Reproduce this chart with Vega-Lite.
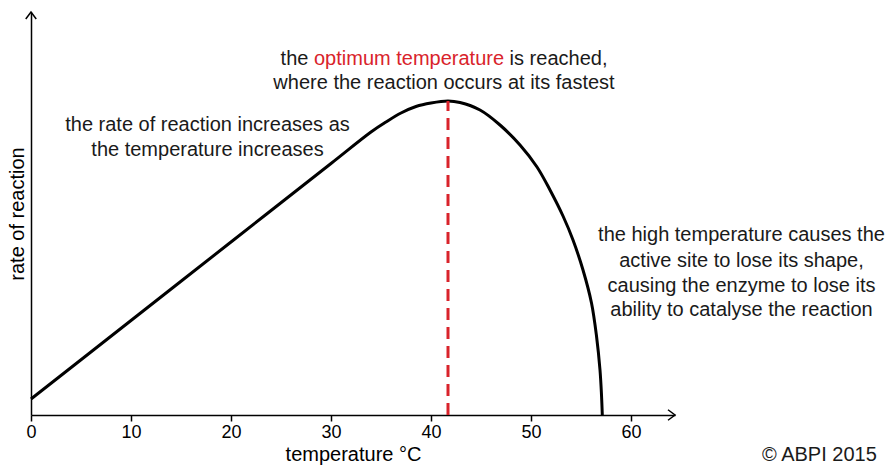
{
  "$schema": "https://vega.github.io/schema/vega-lite/v6.json",
  "autosize": "none",
  "width": 644,
  "height": 403,
  "padding": {"left": 31, "top": 12, "right": 210, "bottom": 51},
  "background": "white",
  "config": {
    "view": {"stroke": null},
    "font": "Liberation Sans",
    "text": {"font": "Liberation Sans", "fontSize": 20}
  },
  "datasets": {
    "curve": [
      {"x": 0, "y": 16}, {"x": 10, "y": 94.5}, {"x": 20, "y": 173}, {"x": 30, "y": 251.5},
      {"x": 34, "y": 283}, {"x": 35.5, "y": 293}, {"x": 37, "y": 302}, {"x": 38.5, "y": 308.5},
      {"x": 40, "y": 312}, {"x": 41.7, "y": 314}, {"x": 42.9, "y": 312.5}, {"x": 44.9, "y": 305},
      {"x": 46.9, "y": 290}, {"x": 48.9, "y": 270}, {"x": 50.6, "y": 248}, {"x": 51.9, "y": 225},
      {"x": 53.2, "y": 199}, {"x": 54.2, "y": 175}, {"x": 55.2, "y": 145}, {"x": 56.05, "y": 112},
      {"x": 56.55, "y": 79}, {"x": 56.9, "y": 45}, {"x": 57.05, "y": 20}, {"x": 57.13, "y": 0}
    ],
    "optimum": [{"x": 41.7, "y": 0, "y2": 314}],
    "xarrow": [{"x": 64.4, "y": 0}],
    "yarrow": [{"x": 0, "y": 403}],
    "centerNotes": [
      {"x": 17.65, "y": 290, "text": "the rate of reaction increases as"},
      {"x": 17.65, "y": 265, "text": "the temperature increases"},
      {"x": 41.3, "y": 332, "text": "where the reaction occurs at its fastest"},
      {"x": 71.05, "y": 180, "text": "the high temperature causes the"},
      {"x": 71.05, "y": 154.5, "text": "active site to lose its shape,"},
      {"x": 71.05, "y": 129.5, "text": "causing the enzyme to lose its"},
      {"x": 71.05, "y": 105, "text": "ability to catalyse the reaction"}
    ],
    "redNotes": [{"x": 37.8, "y": 356, "text": "optimum temperature"}],
    "rightNotes": [{"x": 27.74, "y": 356, "text": "the"}],
    "leftNotes": [
      {"x": 47.86, "y": 356, "text": "is reached,"},
      {"x": 73.1, "y": -40, "text": "© ABPI 2015"}
    ]
  },
  "encoding": {
    "x": {
      "field": "x", "type": "quantitative",
      "scale": {"domain": [0, 64.4], "nice": false, "zero": false},
      "axis": {
        "title": "temperature °C", "values": [0, 10, 20, 30, 40, 50, 60],
        "grid": false, "domainColor": "black", "domainWidth": 1.5,
        "tickColor": "black", "tickWidth": 1.5, "tickSize": 6,
        "labelFont": "Liberation Sans", "labelFontSize": 18, "labelColor": "black", "labelPadding": 2,
        "labelFlush": false, "labelOverlap": false,
        "titleFont": "Liberation Sans", "titleFontSize": 20, "titleFontWeight": "normal",
        "titleColor": "black", "titlePadding": 3
      }
    },
    "y": {
      "field": "y", "type": "quantitative",
      "scale": {"domain": [0, 403], "nice": false, "zero": false},
      "axis": {
        "title": "rate of reaction", "grid": false, "ticks": false, "labels": false,
        "domainColor": "black", "domainWidth": 1.5,
        "titleFont": "Liberation Sans", "titleFontSize": 20, "titleFontWeight": "normal",
        "titleColor": "black", "titlePadding": 4
      }
    }
  },
  "layer": [
    {
      "data": {"name": "curve"},
      "mark": {"type": "line", "color": "black", "strokeWidth": 3, "interpolate": "catmull-rom"}
    },
    {
      "data": {"name": "optimum"},
      "mark": {"type": "rule", "color": "#d9232b", "strokeWidth": 3, "strokeDash": [12, 7]},
      "encoding": {"y2": {"field": "y2"}}
    },
    {
      "data": {"name": "xarrow"},
      "mark": {"type": "point", "shape": "M-1,-0.75L0,0L-1,0.75", "size": 196, "filled": false, "stroke": "black", "strokeWidth": 1.5, "opacity": 1}
    },
    {
      "data": {"name": "yarrow"},
      "mark": {"type": "point", "shape": "M-0.75,1L0,0L0.75,1", "size": 196, "filled": false, "stroke": "black", "strokeWidth": 1.5, "opacity": 1}
    },
    {
      "data": {"name": "centerNotes"},
      "mark": {"type": "text", "align": "center", "baseline": "middle", "color": "#1a1a1a", "fontSize": 20},
      "encoding": {"text": {"field": "text"}}
    },
    {
      "data": {"name": "redNotes"},
      "mark": {"type": "text", "align": "center", "baseline": "middle", "color": "#d9232b", "fontSize": 20},
      "encoding": {"text": {"field": "text"}}
    },
    {
      "data": {"name": "rightNotes"},
      "mark": {"type": "text", "align": "right", "baseline": "middle", "color": "#1a1a1a", "fontSize": 20},
      "encoding": {"text": {"field": "text"}}
    },
    {
      "data": {"name": "leftNotes"},
      "mark": {"type": "text", "align": "left", "baseline": "middle", "color": "#1a1a1a", "fontSize": 20},
      "encoding": {"text": {"field": "text"}}
    }
  ]
}
